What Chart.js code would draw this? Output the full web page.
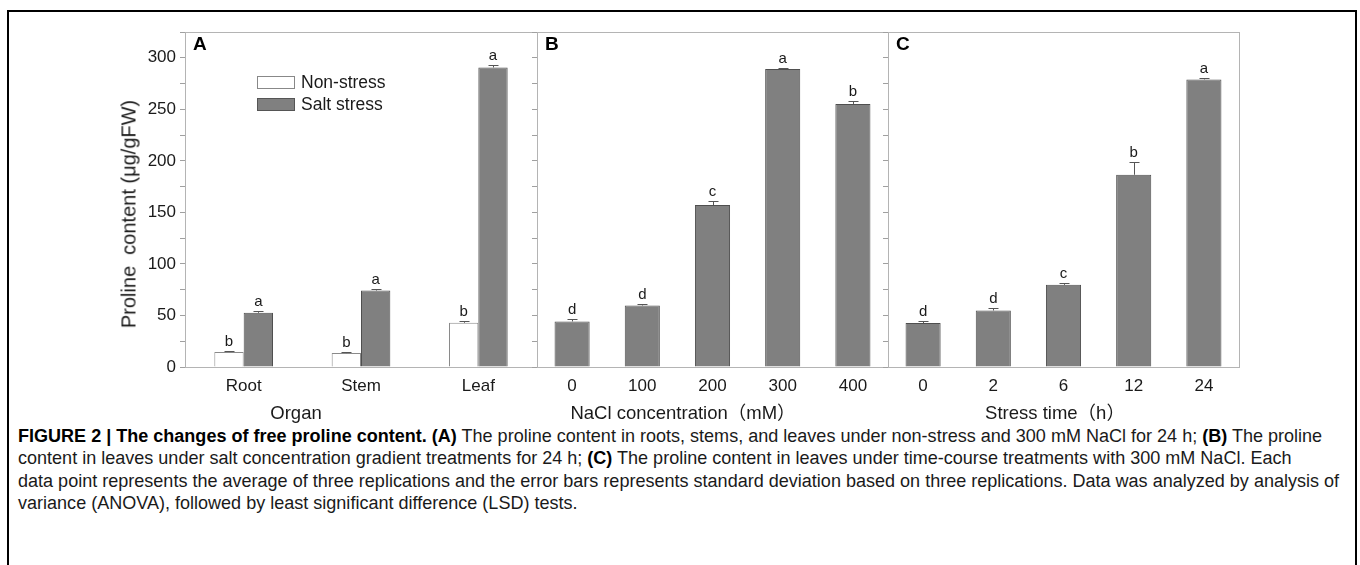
<!DOCTYPE html>
<html>
<head>
<meta charset="utf-8">
<script src="https://cdn.jsdelivr.net/npm/chart.js@4.4.1/dist/chart.umd.min.js"></script>
<style>
  html, body { margin:0; padding:0; background:#fff; width:1360px; height:565px; overflow:hidden;
    font-family:"Liberation Sans", Arial, "Noto Sans CJK SC", sans-serif; color:#1a1a1a; }
  #frame { position:absolute; left:7px; top:10px; width:1350px; height:620px; border:2px solid #000; box-sizing:border-box; }
  canvas { position:absolute; top:0; }
  .xt { position:absolute; top:402px; font-size:18.5px; line-height:21px; height:21px; white-space:nowrap; transform:translateX(-50%); color:#1a1a1a; }
  #ytitle { position:absolute; left:129px; top:214px; font-size:20px; white-space:nowrap;
    transform:translate(-50%,-50%) rotate(-90deg); color:#1a1a1a; }
  .plet { position:absolute; top:33px; font-size:19px; font-weight:bold; color:#000; }
  .lg { position:absolute; left:257px; width:38px; height:13px; box-sizing:border-box; }
  .lgt { position:absolute; left:301px; font-size:17.5px; color:#1a1a1a; white-space:nowrap; }
  #caption { position:absolute; left:18px; top:425px; font-size:15.5px; line-height:22.3px; color:#1a1a1a; }
  #caption div { white-space:nowrap; }
  #caption b { font-weight:bold; color:#000; }
</style>
</head>
<body>
<div id="frame"></div>
<canvas id="cA" width="545" height="420" style="left:0px"></canvas>
<canvas id="cB" width="379" height="420" style="left:517px"></canvas>
<canvas id="cC" width="381" height="420" style="left:868px"></canvas>

<div id="ytitle">Proline&nbsp; content (μg/gFW)</div>
<div class="plet" style="left:193px">A</div>
<div class="plet" style="left:545px">B</div>
<div class="plet" style="left:896px">C</div>

<div class="lg" style="top:76px; background:#fff; border:1px solid #888;"></div>
<div class="lgt" id="lg1" style="top:72px;"></div>
<div class="lg" style="top:98px; background:#808080; border:1px solid #555;"></div>
<div class="lgt" id="lg2" style="top:94px;"></div>

<div class="xt" id="xtA" style="left:296px"></div>
<div class="xt" id="xtB" style="left:683px"></div>
<div class="xt" id="xtC" style="left:1055px"></div>

<div id="caption">
  <div id="cl1"><b>FIGURE 2 | The changes of free proline content.</b> <b>(A)</b> The proline content in roots, stems, and leaves under non-stress and 300 mM NaCl for 24 h; <b>(B)</b> The proline</div>
  <div id="cl2">content in leaves under salt concentration gradient treatments for 24 h; <b>(C)</b> The proline content in leaves under time-course treatments with 300 mM NaCl. Each</div>
  <div id="cl3">data point represents the average of three replications and the error bars represents standard deviation based on three replications. Data was analyzed by analysis of</div>
  <div id="cl4">variance (ANOVA), followed by least significant difference (LSD) tests.</div>
</div>

<script>
// ---------------- data ----------------
const organs = ['Root', 'Stem', 'Leaf'];
const nonStressValues = [14.5, 13.5, 42.9];
const nonStressErrors = [0.6, 1.0, 2.0];
const nonStressLetters = ['b', 'b', 'b'];
const saltStressValues = [52.6, 74.2, 290.6];
const saltStressErrors = [1.6, 1.0, 2.6];
const saltStressLetters = ['a', 'a', 'a'];

const naclLevels = ['0', '100', '200', '300', '400'];
const naclValues = [44.2, 59.7, 157.1, 289.0, 255.2];
const naclErrors = [2.0, 1.3, 3.5, 1.3, 2.9];
const naclLetters = ['d', 'd', 'c', 'a', 'b'];

const timePoints = ['0', '2', '6', '12', '24'];
const timeValues = [42.6, 54.8, 79.7, 186.5, 279.0];
const timeErrors = [2.3, 2.9, 1.9, 11.9, 1.3];
const timeLetters = ['d', 'd', 'c', 'b', 'a'];

const seriesNames = ['Non-stress', 'Salt stress'];
const axisTitles = ['Organ', 'NaCl concentration（mM）', 'Stress time（h）'];
const yMax = 325;
const yStep = 25;
const yLabelStep = 50;

// ---------------- text ----------------
document.getElementById('lg1').textContent = seriesNames[0];
document.getElementById('lg2').textContent = seriesNames[1];
document.getElementById('xtA').textContent = axisTitles[0];
document.getElementById('xtB').textContent = axisTitles[1];
document.getElementById('xtC').textContent = axisTitles[2];

const FONT = '"Liberation Sans", Arial, sans-serif';
const AXIS_COL = '#b4b4b4';

// frame around the plot area
const framePlugin = {
  id: 'frame',
  afterDraw(chart) {
    const {ctx, chartArea: a} = chart;
    ctx.save();
    ctx.strokeStyle = AXIS_COL;
    ctx.lineWidth = 1;
    ctx.strokeRect(Math.round(a.left) + 0.5, Math.round(a.top) + 0.5,
                   Math.round(a.right - a.left), Math.round(a.bottom - a.top));
    ctx.restore();
  }
};

// error bars (upper half) + significance letters
const errPlugin = {
  id: 'errs',
  afterDatasetsDraw(chart) {
    const {ctx} = chart;
    const ys = chart.scales.y;
    chart.data.datasets.forEach((ds, di) => {
      const meta = chart.getDatasetMeta(di);
      meta.data.forEach((bar, i) => {
        const v = ds.data[i], e = ds.errs[i];
        const yTop = Math.round(ys.getPixelForValue(v + e)) + 0.5;
        const yBar = ys.getPixelForValue(v);
        const x = Math.round(bar.x) + 0.5;
        ctx.save();
        ctx.strokeStyle = '#555';
        ctx.lineWidth = 1;
        ctx.beginPath();
        ctx.moveTo(x, yBar);
        ctx.lineTo(x, yTop);
        ctx.moveTo(x - 5, yTop);
        ctx.lineTo(x + 5, yTop);
        ctx.stroke();
        ctx.fillStyle = '#1a1a1a';
        ctx.font = '15px ' + FONT;
        ctx.textAlign = 'center';
        ctx.textBaseline = 'bottom';
        ctx.fillText(ds.sig[i], bar.x, yTop - 2);
        ctx.restore();
      });
    });
  }
};

function makeChart(id, labels, datasets, leftW, rightPad, showLabels, barPct, catPct) {
  return new Chart(document.getElementById(id), {
    type: 'bar',
    data: { labels: labels, datasets: datasets },
    options: {
      responsive: false,
      animation: false,
      events: [],
      layout: { padding: { top: 32, right: rightPad, left: 0, bottom: 0 } },
      plugins: { legend: { display: false }, tooltip: { enabled: false } },
      datasets: { bar: { barPercentage: barPct, categoryPercentage: catPct } },
      scales: {
        x: {
          grid: { display: false, drawTicks: false },
          border: { display: true, color: AXIS_COL, width: 1 },
          ticks: { color: '#1a1a1a', font: { size: 17, family: FONT }, padding: 9, maxRotation: 0, autoSkip: false },
          afterFit(s) { s.height = 53; }
        },
        y: {
          min: 0, max: yMax,
          grid: { display: true, drawOnChartArea: false, drawTicks: true, tickLength: 5, color: '#a0a0a0' },
          border: { display: true, color: AXIS_COL, width: 1 },
          ticks: {
            stepSize: yStep, autoSkip: false, color: '#1a1a1a', padding: 4,
            font: { size: 17, family: FONT },
            callback: v => (showLabels && v % yLabelStep === 0) ? String(v) : ''
          },
          afterFit(s) { s.width = leftW; }
        }
      }
    },
    plugins: [framePlugin, errPlugin]
  });
}

const salt = { backgroundColor: '#808080', borderColor: '#4f4f4f', borderWidth: 1 };
const nons = { backgroundColor: '#ffffff', borderColor: '#8a8a8a', borderWidth: 1 };

makeChart('cA', organs, [
  Object.assign({ label: seriesNames[0], data: nonStressValues, errs: nonStressErrors, sig: nonStressLetters }, nons),
  Object.assign({ label: seriesNames[1], data: saltStressValues, errs: saltStressErrors, sig: saltStressLetters }, salt)
], 185, 8, true, 1.0, 0.5);

makeChart('cB', naclLevels, [
  Object.assign({ label: seriesNames[1], data: naclValues, errs: naclErrors, sig: naclLetters }, salt)
], 20, 8, false, 0.5, 1.0);

makeChart('cC', timePoints, [
  Object.assign({ label: seriesNames[1], data: timeValues, errs: timeErrors, sig: timeLetters }, salt)
], 20, 10, false, 0.5, 1.0);

// fit caption width
(function () {
  const l3 = document.getElementById('cl3');
  const w = l3.getBoundingClientRect().width;
  const target = 1322;
  const cap = document.getElementById('caption');
  const fs = 15.5 * target / w;
  cap.style.fontSize = fs.toFixed(2) + 'px';
})();
</script>
</body>
</html>
